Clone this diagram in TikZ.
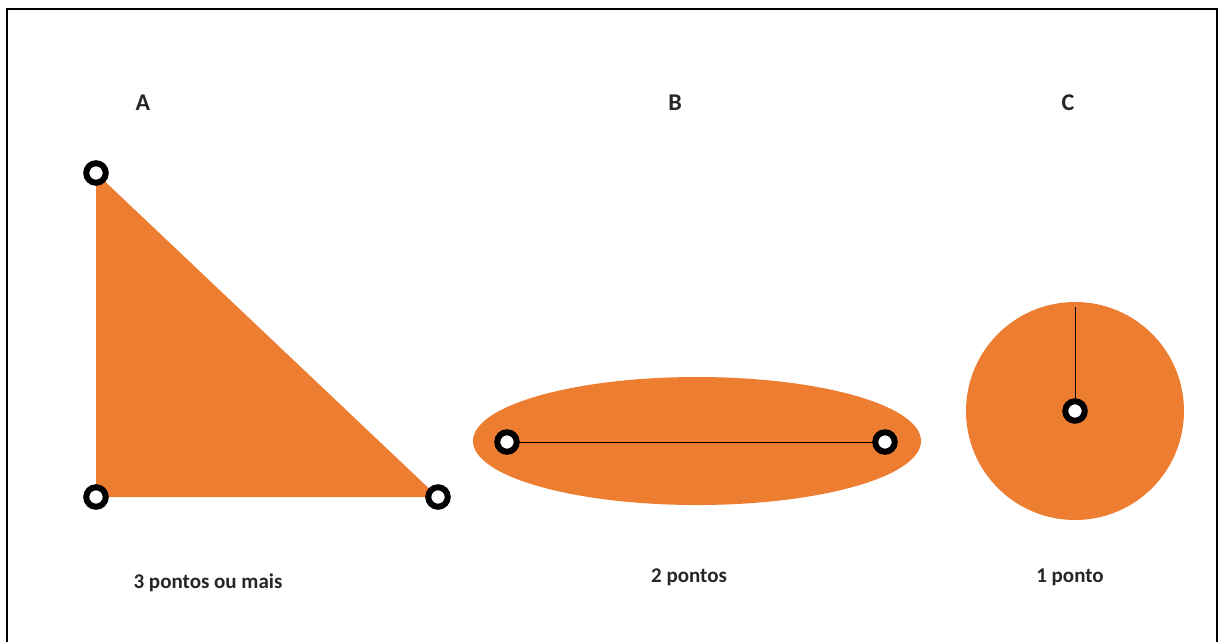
\documentclass[tikz,border=0pt]{standalone}
\usepackage{fontspec}
\setmainfont{Carlito}
\definecolor{offorange}{HTML}{ED7D31}
\begin{document}
\begin{tikzpicture}[x=1pt,y=-1pt,
  pt/.style={circle,draw=black,line width=6pt,fill=white,minimum size=19.5pt,inner sep=0pt},
  lbl/.style={font=\bfseries\fontsize{21}{24}\selectfont,text=black!85},
  hdr/.style={font=\bfseries\fontsize{24}{28}\selectfont,text=black!85},
  shapefill/.style={fill=offorange,draw=none}]
\useasboundingbox (0,0) rectangle (1219,641);
\draw[line width=2pt] (7,660) -- (7,9) -- (1217,9) -- (1217,660);
% labels
\node[hdr] (la) at (143,103) {A};
\node[hdr] (lb) at (675,103) {B};
\node[hdr] (lc) at (1068,103) {C};
% triangle
\fill[shapefill] (96,173) -- (96,497) -- (438,497) -- cycle;
\node[pt] (a1) at (96,173) {};
\node[pt] (a2) at (96,497) {};
\node[pt] (a3) at (438,497) {};
% ellipse
\fill[shapefill] (697,441) ellipse [x radius=224, y radius=64];
\coordinate (b1c) at (507,442);
\coordinate (b2c) at (885,442);
\draw[line width=0.8pt] (b1c) -- (b2c);
\node[pt] (b1) at (b1c) {};
\node[pt] (b2) at (b2c) {};
% circle
\fill[shapefill] (1075,411) circle [radius=109];
\coordinate (ctop) at (1075,307);
\draw[line width=0.8pt] (ctop) -- (1075,411);
\node[pt] (c1) at (1075,411) {};
% captions
\node[lbl] (ta) at (208,583) {3 pontos ou mais};
\node[lbl] (tb) at (689,577) {2 pontos};
\node[lbl] (tc) at (1070,577) {1 ponto};
\end{tikzpicture}
\end{document}
